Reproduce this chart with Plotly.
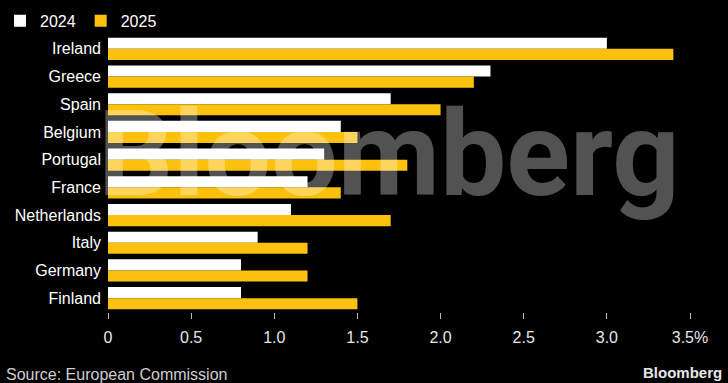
import plotly.graph_objects as go

countries = ["Ireland", "Greece", "Spain", "Belgium", "Portugal", "France",
             "Netherlands", "Italy", "Germany", "Finland"]
v2024 = [3.0, 2.3, 1.7, 1.4, 1.3, 1.2, 1.1, 0.9, 0.8, 0.8]
v2025 = [3.4, 2.2, 2.0, 1.5, 1.8, 1.4, 1.7, 1.2, 1.2, 1.5]
tick_vals = [0, 0.5, 1.0, 1.5, 2.0, 2.5, 3.0, 3.5]
tick_text = ["0", "0.5", "1.0", "1.5", "2.0", "2.5", "3.0", "3.5%"]

FONT = "Liberation Sans"
fig = go.Figure()
fig.add_trace(go.Bar(y=countries, x=v2024, orientation="h", name="2024",
                     marker=dict(color="#ffffff", line=dict(width=0))))
fig.add_trace(go.Bar(y=countries, x=v2025, orientation="h", name="2025",
                     marker=dict(color="#fcc10f", line=dict(width=0))))

fig.update_layout(
    width=728, height=383,
    paper_bgcolor="#000000", plot_bgcolor="#000000",
    margin=dict(l=108, r=33, t=35, b=71, autoexpand=False),
    barmode="group", bargap=0.2, bargroupgap=0,
    font=dict(family=FONT, color="#e6e6e6", size=16),
    showlegend=True,
    legend=dict(orientation="h", xref="container", yref="container",
                x=0.0, y=0.99, xanchor="left", yanchor="top",
                font=dict(size=16, color="#ffffff"), itemwidth=30,
                bgcolor="rgba(0,0,0,0)"),
    xaxis=dict(range=[0, 3.53], tickvals=tick_vals, ticktext=tick_text,
               showgrid=False, zeroline=False, showline=False,
               ticks="outside", ticklen=6, tickcolor="#bbbbbb",
               ticklabelstandoff=5,
               tickfont=dict(size=16, color="#e6e6e6"), fixedrange=True),
    yaxis=dict(autorange="reversed", showgrid=False, zeroline=False,
               ticks="", ticklabelstandoff=6,
               tickfont=dict(size=16, color="#ffffff")),
    annotations=[
        dict(text="Source: European Commission", xref="paper", yref="paper",
             x=-0.178, y=-0.225, xanchor="left", yanchor="middle",
             showarrow=False, font=dict(size=16, color="#cfcfcf")),
        dict(text="<b>Bloomberg</b>", xref="paper", yref="paper",
             x=1.05, y=-0.22, xanchor="right", yanchor="middle",
             showarrow=False, font=dict(size=15, color="#e6e6e6")),
        dict(text="<b>Bloomberg</b>", xref="paper", yref="paper",
             x=0.478, y=0.565, xanchor="center", yanchor="middle",
             showarrow=False,
             font=dict(size=118, color="rgba(255,255,255,0.32)", family="Roboto")),
    ],
)

fig.write_html("out.html")
